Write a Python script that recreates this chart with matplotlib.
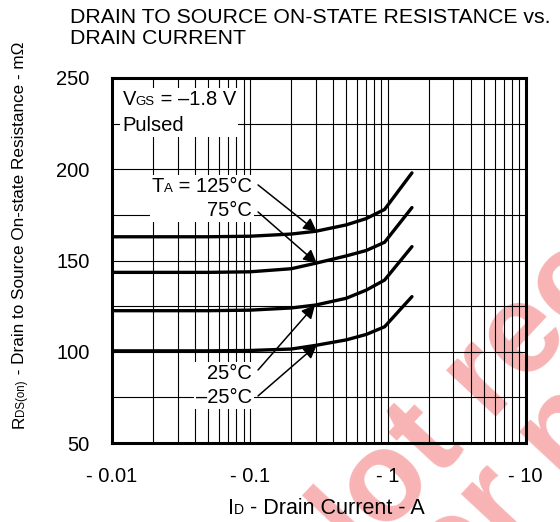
import numpy as np
import matplotlib
matplotlib.use("Agg")
import matplotlib.pyplot as plt
from matplotlib.ticker import LogLocator, MultipleLocator, NullFormatter
from matplotlib.offsetbox import TextArea, HPacker, VPacker, AnnotationBbox

plt.rcParams["font.family"] = ["Liberation Sans", "DejaVu Sans"]

# ===== data =====
drain_current = [0.01, 0.05, 0.1, 0.2, 0.3, 0.5, 0.7, 0.95, 1.5]  # -A
r_125 = [163, 163, 163.3, 164.5, 166, 169.5, 173, 178, 198]
r_75 = [143.5, 143.5, 143.8, 145.5, 148.5, 152.5, 155.5, 160, 179]
r_25 = [122.5, 122.5, 122.8, 124, 125.6, 129.3, 133.8, 139.3, 157.6]
r_m25 = [100.5, 100.5, 100.7, 101.5, 103.5, 106.5, 109.5, 113.7, 130.2]

x_ticks = [0.01, 0.1, 1, 10]
x_tick_labels = ["- 0.01", "- 0.1", "- 1", "- 10"]
y_ticks = [50, 100, 150, 200, 250]

# arrow (label end -> curve) for each temperature
arrow_from = [(0.1147, 191.4), (0.1147, 176.6), (0.1147, 90.0), (0.1147, 75.8)]
arrow_to = [(0.306, 165.8), (0.306, 148.5), (0.297, 125.6), (0.306, 103.7)]

FS = 14.5
SUB = 9.5


def rich(parts, size=FS):
    # small letters sit on the baseline, like the datasheet
    kids = [TextArea(t, textprops=dict(fontsize=s)) for t, s in parts]
    return HPacker(children=kids, align="baseline", pad=0, sep=0)


fig = plt.figure(figsize=(5.6, 5.22), dpi=100)
ax = fig.add_axes([0.2, 0.1513, 0.7384, 0.6993])
ax.patch.set_alpha(0)

# watermark, behind everything
wm = dict(fontsize=92, fontweight="bold", color="#f8b4b4", rotation=47,
          rotation_mode="anchor", ha="left", va="baseline", zorder=-5)
fig.text(0.573, -0.157, "Not recommended", **wm)
fig.text(0.755, -0.216, "for new design", **wm)

for r in (r_125, r_75, r_25, r_m25):
    ax.plot(drain_current, r, color="black", lw=2.4, solid_capstyle="round",
            solid_joinstyle="round", zorder=4)

ax.set_xscale("log")
ax.set_xlim(0.01, 10)
ax.set_ylim(50, 250)
ax.set_xticks(x_ticks)
ax.set_xticklabels(x_tick_labels)
ax.xaxis.set_minor_locator(LogLocator(base=10, subs=np.arange(2, 10)))
ax.xaxis.set_minor_formatter(NullFormatter())
ax.set_yticks(y_ticks)
ax.yaxis.set_minor_locator(MultipleLocator(25))
ax.tick_params(which="both", length=0, labelsize=FS)
ax.tick_params(axis="x", pad=17)
ax.tick_params(axis="y", pad=16)
ax.grid(which="both", color="black", lw=0.8, zorder=1)
ax.set_axisbelow(True)
for s in ax.spines.values():
    s.set_linewidth(2.2)
    s.set_zorder(6)

box_kw = dict(frameon=True, pad=0.15, bboxprops=dict(fc="white", ec="none"))

vgs = VPacker(children=[rich([("V", FS), ("GS", SUB), (" = \u20131.8 V", FS)]),
                        rich([("Pulsed", FS)])],
              align="left", pad=0, sep=5)
ax.add_artist(AnnotationBbox(vgs, (0.0119, 231.0), box_alignment=(0, 0.5),
                             zorder=5, **box_kw))

hot = VPacker(children=[rich([("T", FS), ("A", SUB), (" = 125\u00b0C", FS)]),
                        rich([("75\u00b0C", FS)])],
              align="right", pad=0, sep=3)
ax.add_artist(AnnotationBbox(hot, (0.1035, 184.0), box_alignment=(1, 0.5),
                             zorder=5, **box_kw))

cold = VPacker(children=[rich([("25\u00b0C", FS)]),
                         rich([("\u201325\u00b0C", FS)])],
               align="right", pad=0, sep=4)
ax.add_artist(AnnotationBbox(cold, (0.1035, 81.5), box_alignment=(1, 0.5),
                             zorder=5, **box_kw))

for a, b in zip(arrow_from, arrow_to):
    ax.annotate("", xy=b, xytext=a,
                arrowprops=dict(arrowstyle="-|>", color="black", lw=1.1,
                                mutation_scale=20, shrinkA=0, shrinkB=0),
                zorder=5)

# x label: I_D with small D on the baseline
xl = rich([("I", 15.5), ("D", 10), (" - Drain Current - A", 15.5)])
fig.add_artist(AnnotationBbox(xl, (0.582, 1 - 508 / 522), xycoords="figure fraction",
                              box_alignment=(0.5, 0.5), frameon=False))

# y label built from pieces, stacked upwards
YFS = 12.3
t1 = fig.text(27 / 560, 1 - 428 / 522, "R", fontsize=YFS, rotation=90,
              ha="right", va="bottom")
t2 = ax.annotate("DS(on)", xy=(1, 1), xycoords=t1, fontsize=8.3, rotation=90,
                 ha="right", va="bottom", annotation_clip=False)
ax.annotate(" - Drain to Source On-state Resistance - m\u03a9", xy=(1, 1),
            xycoords=t2, fontsize=YFS, rotation=90, ha="right", va="bottom",
            annotation_clip=False)

fig.text(70 / 560, 1 - 8 / 522,
         "DRAIN TO SOURCE ON-STATE RESISTANCE vs.\nDRAIN CURRENT",
         fontsize=15.3, ha="left", va="top", linespacing=1.15)

fig.savefig("out.png", dpi=100)
